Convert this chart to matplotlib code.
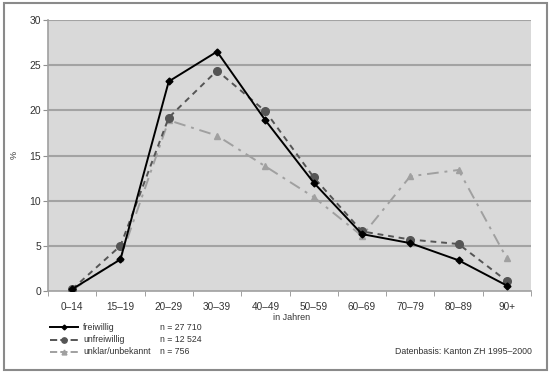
import matplotlib
matplotlib.use("Agg")
import matplotlib.pyplot as plt
from matplotlib.patches import Rectangle
from matplotlib.lines import Line2D

categories = ["0–14", "15–19", "20–29", "30–39", "40–49", "50–59", "60–69", "70–79", "80–89", "90+"]
freiwillig = [0.2, 3.5, 23.2, 26.5, 18.9, 12.0, 6.3, 5.3, 3.4, 0.6]
unfreiwillig = [0.2, 5.0, 19.2, 24.4, 19.9, 12.6, 6.6, 5.7, 5.2, 1.1]
unklar = [0.1, 3.6, 18.9, 17.2, 13.8, 10.4, 6.1, 12.7, 13.4, 3.6]
labels = ["freiwillig", "unfreiwillig", "unklar/unbekannt"]
ns = ["n = 27 710", "n = 12 524", "n = 756"]
yticks = [0, 5, 10, 15, 20, 25, 30]

plt.rcParams['font.family'] = ['Liberation Sans', 'DejaVu Sans']
fig = plt.figure(figsize=(5.5, 3.73), dpi=100)
fig.patch.set_facecolor('white')
fig.add_artist(Rectangle((4/550, 3/373), 543/550, 367/373, transform=fig.transFigure,
                         fill=False, edgecolor='#8a8a8a', lw=1.5))

ax = fig.add_axes([48/550, 1-291/373, 483/550, 271/373])
ax.set_facecolor('#d9d9d9')
x = list(range(len(categories)))

ax.set_ylim(0, 30)
ax.set_xlim(-0.5, len(categories) - 0.5)
ax.set_yticks(yticks)
for yv in yticks[1:]:
    ax.axhline(yv, color='#a3a3a3', lw=1.5, zorder=1)

s1, = ax.plot(x, freiwillig, color='black', lw=1.4, marker='D', ms=3.5, zorder=5)
s2, = ax.plot(x, unfreiwillig, color='#555555', lw=1.4, ls=(0, (3, 2.5)), marker='o', ms=5.5, zorder=4)
s3, = ax.plot(x, unklar, color='#a0a0a0', lw=1.4, ls=(0, (6, 3, 1.5, 3)), marker='^', ms=5, zorder=3)

ax.set_xticks(x)
ax.set_xticklabels(categories)
ax.set_xticks([i - 0.5 for i in range(len(categories) + 1)], minor=True)
ax.tick_params(axis='x', which='major', length=0, labelsize=7.2, pad=8, colors='#333333')
ax.tick_params(axis='x', which='minor', length=3.5, color='#909090', direction='out')
ax.tick_params(axis='y', length=3.5, color='#909090', labelsize=7.5, pad=1.5, labelcolor='#333333')
for side in ['top', 'right']:
    ax.spines[side].set_visible(False)
for side in ['left', 'bottom']:
    ax.spines[side].set_color('#a0a0a0')
    ax.spines[side].set_linewidth(1.2)

fig.text(273/550, 1-317/373, "in Jahren", fontsize=6.5, color='#333333', va='center')
fig.text(14/550, 1-155/373, "%", fontsize=6.5, color='#333333', va='center', ha='center', rotation=90)
fig.text(532/550, 1-352/373, "Datenbasis: Kanton ZH 1995–2000", fontsize=6.3, color='#333333', va='center', ha='right')

handles = [s1, s2, s3]
ys = [327, 340, 352]
for h, lab, n, yy in zip(handles, labels, ns, ys):
    yf = 1 - yy/373
    ln = Line2D([50/550, 78/550], [yf, yf], transform=fig.transFigure, color=h.get_color(),
                lw=h.get_linewidth(), ls=h.get_linestyle())
    fig.add_artist(ln)
    mk = Line2D([64/550], [yf], transform=fig.transFigure, color=h.get_color(), marker=h.get_marker(),
                ms=h.get_markersize()*0.7, ls='none')
    fig.add_artist(mk)
    fig.text(83/550, yf, lab, fontsize=6.3, color='#333333', va='center')
    fig.text(160/550, yf, n, fontsize=6.3, color='#333333', va='center')

fig.savefig("out.png", dpi=100)
